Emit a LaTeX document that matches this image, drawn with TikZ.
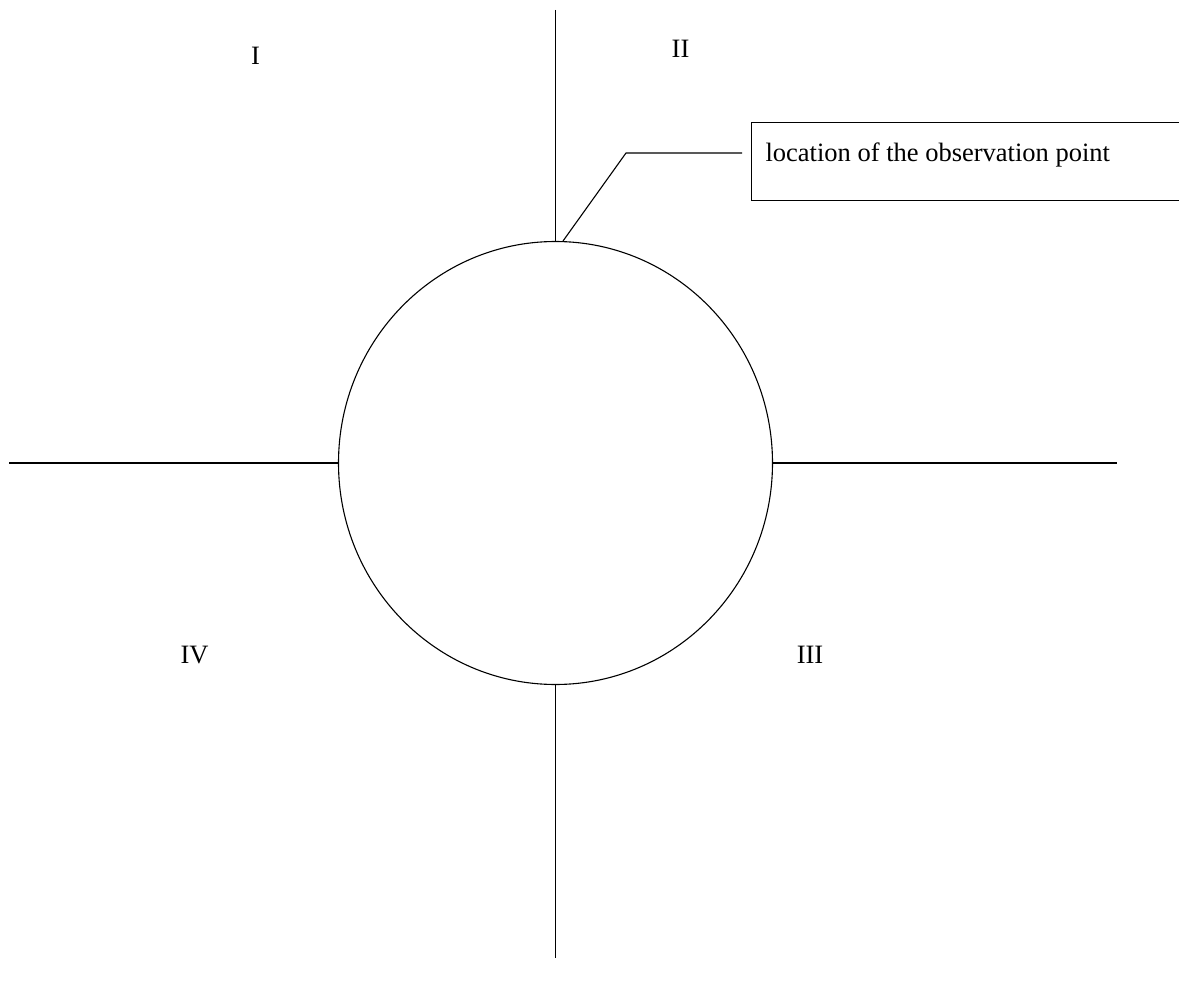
\documentclass[tikz,border=0pt]{standalone}
\usepackage{fontspec}
\setmainfont{Liberation Serif}
\usetikzlibrary{shapes.geometric}
\begin{document}
\begin{tikzpicture}[x=1pt,y=-1pt,
  every path/.style={line width=1.1pt},
  lbl/.style={anchor=base,inner sep=0pt,font=\fontsize{26.5}{30}\selectfont},
  ring/.style={draw,ellipse,inner sep=0pt,minimum width=434,minimum height=443,line width=1.1pt},
  callout/.style={draw,rectangle,anchor=north west,inner sep=0pt,minimum width=440,minimum height=78,line width=1.1pt}]
\useasboundingbox (0,0) rectangle (1179,987);
\node[ring] (earth) at (555.5,463) {};
\coordinate (ntop) at (555.5,10);
\coordinate (sbot) at (555.5,958);
\coordinate (wend) at (9,463);
\coordinate (eend) at (1117,463);
\draw (ntop) -- (earth.north);
\draw (earth.south) -- (sbot);
\draw (wend) -- (earth.west);
\draw (earth.east) -- (eend);
\node[lbl] (q1) at (255.5,65) {I};
\node[lbl] (q2) at (680.5,58) {II};
\node[lbl] (q4) at (194.5,663) {IV};
\node[lbl] (q3) at (810,663) {III};
\node[callout] (box) at (751,122) {};
\node[lbl,anchor=base west] (boxtxt) at (765,162) {location of the observation point};
\coordinate (obs) at (563,241);
\coordinate (bend) at (626,153);
\coordinate (lend) at (742,153);
\draw (obs) -- (bend) -- (lend);
\end{tikzpicture}
\end{document}
